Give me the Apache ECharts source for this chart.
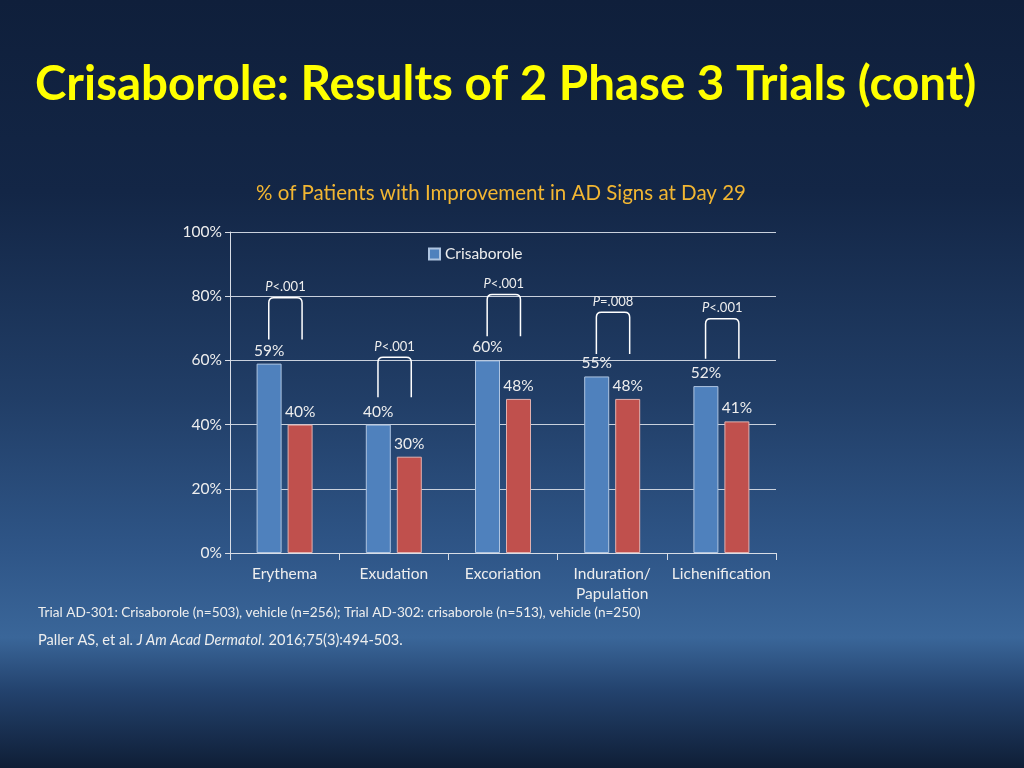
<!DOCTYPE html>
<html>
<head>
<meta charset="utf-8">
<title>Crisaborole: Results of 2 Phase 3 Trials (cont)</title>
<script src="https://cdn.jsdelivr.net/npm/echarts@6/dist/echarts.min.js"></script>
<style>
  html, body { margin: 0; padding: 0; background: #0f1f3b; }
  #chart { width: 1024px; height: 768px; }
</style>
</head>
<body>
<div id="chart"></div>
<script>
// data
var categories = ['Erythema', 'Exudation', 'Excoriation', 'Induration/\nPapulation', 'Lichenification'];
var crisaborole = [59, 40, 60, 55, 52];
var vehicle = [40, 30, 48, 48, 41];
var yTicks = [0, 20, 40, 60, 80, 100];

// p-value brackets: top of bracket, bottom of legs (in %), label
var pLabels = ['<.001', '<.001', '<.001', '=.008', '<.001'];
var bracketTop = [79.5, 61, 80.5, 75, 73];
var bracketBottom = [66.5, 48.5, 67.5, 62, 60.5];

var FONT = 'Lato, "Open Sans", sans-serif';
var TXT = '#eeeeee';

var bracketData = categories.map(function (c, i) {
  return [i, bracketTop[i], bracketBottom[i], pLabels[i]];
});

// reference line: plain / italic / plain pieces
var refParts = [
  ['Paller AS, et al. ', ''],
  ['J Am Acad Dermatol', 'italic '],
  ['. 2016;75(3):494-503.', '']
];
var measure = document.createElement('canvas').getContext('2d');
var refX = 38;
var refTexts = refParts.map(function (p) {
  var font = p[1] + '14.6px ' + FONT;
  measure.font = font;
  var el = { type: 'text', x: refX, y: 633, style: { text: p[0], font: font, fill: TXT } };
  refX += measure.measureText(p[0]).width;
  return el;
});

var chart = echarts.init(document.getElementById('chart'));

var option = {
  backgroundColor: new echarts.graphic.LinearGradient(0, 0, 0, 1, [
    { offset: 0, color: '#0f1f3b' },
    { offset: 0.25, color: '#132646' },
    { offset: 0.52, color: '#213e67' },
    { offset: 0.72, color: '#2f5688' },
    { offset: 0.83, color: '#3a6699' },
    { offset: 0.9, color: '#23426d' },
    { offset: 1, color: '#0f1e36' }
  ]),
  textStyle: { fontFamily: FONT },
  title: [{
    text: 'Crisaborole: Results of 2 Phase 3 Trials (cont)',
    left: 30,
    top: 56,
    textStyle: { color: '#ffff00', fontSize: 47.5, fontWeight: 'bold', fontFamily: FONT }
  }, {
    text: '% of Patients with Improvement in AD Signs at Day 29',
    left: 496,
    textAlign: 'center',
    top: 178,
    textStyle: { color: '#f2b632', fontSize: 20.5, fontWeight: 'normal', fontFamily: FONT }
  }],
  legend: {
    data: ['Crisaborole'],
    icon: 'rect',
    left: 423,
    top: 241,
    itemWidth: 11,
    itemHeight: 11,
    itemGap: 4,
    textStyle: { color: TXT, fontSize: 15.5, fontFamily: FONT }
  },
  grid: { left: 230, right: 248, top: 232, bottom: 215 },
  xAxis: {
    type: 'category',
    data: categories,
    axisLine: { lineStyle: { color: '#d8dde6', width: 1 } },
    axisTick: { show: true, length: 7, lineStyle: { color: '#d8dde6' } },
    axisLabel: { color: TXT, fontSize: 15.5, margin: 11, lineHeight: 20, interval: 0, fontFamily: FONT }
  },
  yAxis: {
    type: 'value',
    min: 0,
    max: 100,
    interval: 20,
    axisLine: { show: true, lineStyle: { color: '#d8dde6' } },
    axisTick: { show: true, length: 5, lineStyle: { color: '#d8dde6' } },
    splitLine: { lineStyle: { color: '#c9d1dd', width: 1 } },
    axisLabel: {
      color: TXT, fontSize: 15.5, margin: 8, fontFamily: FONT,
      formatter: function (v) { return yTicks.indexOf(v) >= 0 ? v + '%' : ''; }
    }
  },
  series: [{
    name: 'Crisaborole',
    type: 'bar',
    data: crisaborole,
    barWidth: 25,
    barGap: '24%',
    itemStyle: { color: '#4f81bd', borderColor: '#aec4e0', borderWidth: 1 },
    label: { show: true, position: 'top', distance: 5, color: TXT, fontSize: 15.5, formatter: '{c}%' }
  }, {
    name: 'Vehicle',
    type: 'bar',
    data: vehicle,
    barWidth: 25,
    itemStyle: { color: '#c0504d', borderColor: '#e3b0ae', borderWidth: 1 },
    label: { show: true, position: 'top', distance: 5, color: TXT, fontSize: 15.5, formatter: '{c}%' }
  }, {
    name: 'P',
    type: 'custom',
    data: bracketData,
    z: 5,
    silent: true,
    renderItem: function (params, api) {
      var c = api.coord([api.value(0), api.value(1)]);
      var b = api.coord([api.value(0), api.value(2)]);
      var band = api.size([1, 0])[0];
      var xl = c[0] - band * 0.145;
      var xr = c[0] + band * 0.16;
      var yt = c[1];
      var yb = b[1];
      var r = 5;
      var d = 'M' + xl + ' ' + yb + ' L' + xl + ' ' + (yt + r) +
        ' Q' + xl + ' ' + yt + ' ' + (xl + r) + ' ' + yt +
        ' L' + (xr - r) + ' ' + yt +
        ' Q' + xr + ' ' + yt + ' ' + xr + ' ' + (yt + r) +
        ' L' + xr + ' ' + yb;
      // italic "P" then the rest, measured so they sit side by side
      var fN = '13px ' + FONT, fI = 'italic 13px ' + FONT;
      var rest = api.value(3);
      measure.font = fI; var wP = measure.measureText('P').width;
      measure.font = fN; var wR = measure.measureText(rest).width;
      var x0 = (xl + xr) / 2 - (wP + wR) / 2;
      return {
        type: 'group',
        children: [{
          type: 'path',
          shape: { pathData: d },
          style: { fill: null, stroke: '#ffffff', lineWidth: 1.5 }
        }, {
          type: 'text', x: x0, y: yt - 4,
          style: { text: 'P', font: fI, fill: TXT, verticalAlign: 'bottom' }
        }, {
          type: 'text', x: x0 + wP, y: yt - 4,
          style: { text: rest, font: fN, fill: TXT, verticalAlign: 'bottom' }
        }]
      };
    }
  }],
  graphic: [{
    type: 'text',
    left: 38,
    top: 606,
    style: {
      text: 'Trial AD-301: Crisaborole (n=503), vehicle (n=256); Trial AD-302: crisaborole (n=513), vehicle (n=250)',
      fill: TXT, fontSize: 13.6, fontFamily: FONT
    }
  }].concat(refTexts)
};

chart.setOption(option);
</script>
</body>
</html>
